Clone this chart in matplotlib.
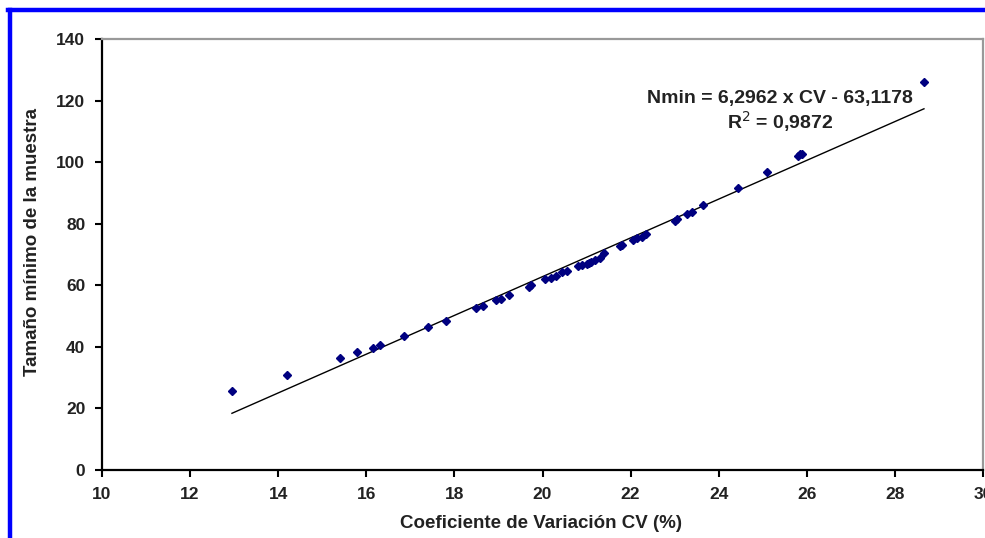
import matplotlib
matplotlib.use("Agg")
import matplotlib.pyplot as plt
from matplotlib.lines import Line2D
import numpy as np

plt.rcParams['font.family'] = ['Liberation Sans', 'DejaVu Sans']

cv = [12.95, 14.2, 15.4, 15.8, 16.15, 16.3, 16.85, 17.4, 17.8, 18.5, 18.65,
      18.95, 19.05, 19.25, 19.7, 19.75, 20.05, 20.2, 20.3, 20.45, 20.55,
      20.8, 20.9, 21.0, 21.05, 21.1, 21.2, 21.3, 21.4, 21.75, 21.8, 22.05,
      22.15, 22.25, 22.35, 23.0, 23.05, 23.27, 23.4, 23.64, 24.43, 25.1,
      25.8, 25.85, 25.9, 28.66]
nmin = [25.5, 31.0, 36.3, 38.2, 39.7, 40.5, 43.5, 46.5, 48.5, 52.5, 53.3,
        55.3, 55.5, 57.0, 59.5, 60.0, 62.0, 62.5, 63.0, 64.3, 64.6,
        66.2, 66.5, 67.0, 67.3, 67.6, 68.2, 68.8, 70.4, 72.7, 73.0, 74.7,
        75.2, 75.8, 76.6, 81.0, 81.4, 83.1, 83.8, 86.0, 91.6, 96.7,
        102.0, 102.5, 102.8, 126.0]

slope = 6.2962
intercept = -63.1178
eq_text = "Nmin = 6,2962 x CV - 63,1178"
r2_text = "R$^2$ = 0,9872"

xticks = [10, 12, 14, 16, 18, 20, 22, 24, 26, 28, 30]
yticks = [0, 20, 40, 60, 80, 100, 120, 140]

W, H = 985, 538
fig = plt.figure(figsize=(W/100, H/100), dpi=100)
ax = fig.add_axes([102/W, 1-470/H, (983-102)/W, (470-39)/H])

xl = np.array([min(cv), max(cv)])
ax.plot(xl, slope*xl + intercept, color='black', lw=1.0, zorder=2)
ax.plot(cv, nmin, linestyle='none', marker='D', ms=3.6, color='#000080',
        mec='#000080', zorder=3)

ax.set_xlim(10, 30)
ax.set_ylim(0, 140)
ax.set_xticks(xticks)
ax.set_yticks(yticks)
ax.tick_params(direction='out', length=5, width=1.5, color='black',
               labelsize=12.5, labelcolor='#222222')
ax.tick_params(axis='x', pad=7)
ax.tick_params(axis='y', pad=7)
for lab in ax.get_xticklabels() + ax.get_yticklabels():
    lab.set_fontweight('bold')

for s in ['left', 'bottom']:
    ax.spines[s].set_color('black')
    ax.spines[s].set_linewidth(1.6)
for s in ['top', 'right']:
    ax.spines[s].set_color('#999999')
    ax.spines[s].set_linewidth(1.6)

fig.text(541/W, 1-523/H, "Coeficiente de Variación CV (%)", fontsize=13.5,
         fontweight='bold', color='#222222', ha='center', va='center')
fig.text(33/W, 1-242/H, "Tamaño mínimo de la muestra", fontsize=13.5,
         fontweight='bold', color='#222222', ha='center', va='center',
         rotation=90)

fig.text(780/W, 1-99/H, eq_text, ha='center', va='center', fontsize=14,
         fontweight='bold', color='#222222')
fig.text(780/W, 1-122/H, r2_text, ha='center', va='center', fontsize=14,
         fontweight='bold', color='#222222')

# blue frame (top and left edges visible)
fig.add_artist(Line2D([9.5/W, 9.5/W], [1-9.5/H, 0], transform=fig.transFigure,
                      color='#0000ff', lw=3.2))
fig.add_artist(Line2D([8/W, 1], [1-9.5/H, 1-9.5/H], transform=fig.transFigure,
                      color='#0000ff', lw=3.2))

fig.savefig("out.png", dpi=100)
